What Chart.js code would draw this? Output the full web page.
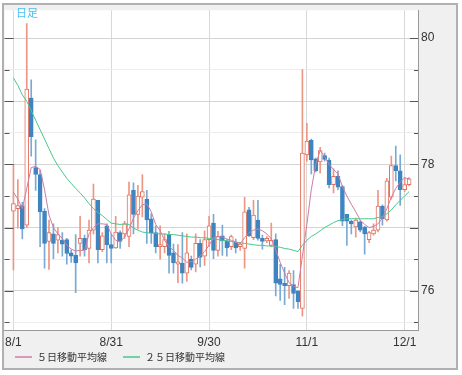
<!DOCTYPE html>
<html>
<head>
<meta charset="utf-8">
<script src="https://cdn.jsdelivr.net/npm/chart.js@4.4.0/dist/chart.umd.min.js"></script>
<style>
html, body { margin: 0; padding: 0; background: #fff; }
#wrap { position: relative; width: 462px; height: 375px; }
</style>
</head>
<body>
<div id="wrap"><canvas id="chart" width="462" height="375"></canvas></div>
<script>
// daily candles, one per trading day from 8/1 (index 0) to 12/2 (index 89)
const opens = [
  77.26, 77.30, 77.35, 77.04, 79.05, 77.95, 77.84, 77.26, 76.78, 76.90,
  76.80, 76.80, 76.81, 76.60, 76.56, 76.75, 76.83, 76.67, 76.96, 77.43,
  76.65, 77.03, 76.73, 76.68, 76.92, 76.90, 76.86, 77.59, 77.21, 77.48,
  77.45, 77.14, 76.92, 76.70, 76.70, 76.89, 76.60, 76.42, 76.44, 76.28,
  76.50, 76.42, 76.75, 76.55, 76.81, 77.07, 76.64, 76.87, 76.79, 76.70,
  76.77, 76.70, 76.67, 77.28, 76.84, 77.12, 76.83, 76.79, 76.72, 76.81,
  76.19, 76.12, 76.08, 76.10, 76.00, 75.72, 78.15, 78.38, 78.09, 78.04,
  78.14, 78.07, 77.68, 77.81, 77.65, 77.21, 77.10, 77.01, 77.09, 77.01,
  76.81, 76.90, 76.96, 77.34, 77.12, 77.48, 77.98, 77.90, 77.60, 77.68
];
const highs = [
  78.00, 77.76, 77.40, 80.23, 79.34, 78.39, 77.91, 77.30, 77.12, 77.06,
  77.00, 76.92, 76.83, 76.65, 76.89, 77.18, 76.88, 77.12, 77.69, 77.43,
  76.92, 77.06, 76.90, 77.18, 76.95, 77.10, 77.72, 77.71, 77.67, 77.84,
  77.59, 77.22, 77.03, 77.03, 76.90, 76.94, 76.74, 76.73, 76.92, 76.90,
  76.55, 76.90, 76.81, 76.95, 77.18, 77.21, 76.94, 77.04, 76.81, 76.88,
  76.82, 76.76, 77.48, 77.32, 77.43, 77.43, 76.88, 76.86, 77.07, 76.90,
  76.42, 76.37, 76.32, 76.32, 76.00, 79.50, 78.65, 78.40, 78.10, 78.27,
  78.18, 78.10, 77.93, 77.90, 77.67, 77.21, 77.12, 77.15, 77.11, 77.02,
  76.94, 77.06, 77.59, 77.36, 77.78, 78.13, 78.29, 78.15, 77.79, 77.79
];
const lows = [
  76.33, 76.99, 76.82, 77.00, 78.13, 77.59, 76.70, 76.36, 76.34, 76.51,
  76.60, 76.55, 76.42, 76.45, 75.97, 76.55, 76.55, 76.44, 76.90, 76.44,
  76.62, 76.44, 76.44, 76.67, 76.67, 76.83, 76.70, 76.90, 76.98, 77.17,
  76.75, 76.75, 76.60, 76.50, 76.60, 76.28, 76.28, 76.13, 76.12, 76.15,
  76.33, 76.30, 76.38, 76.40, 76.70, 76.51, 76.55, 76.56, 76.55, 76.65,
  76.60, 76.64, 76.36, 76.86, 76.81, 76.80, 76.66, 76.76, 76.70, 75.92,
  75.85, 75.78, 75.88, 75.72, 75.72, 75.60, 78.05, 77.85, 77.88, 77.86,
  78.05, 77.63, 77.55, 77.60, 77.03, 76.72, 76.90, 76.85, 76.93, 76.58,
  76.76, 76.88, 76.93, 77.04, 77.10, 77.45, 77.74, 77.35, 77.57, 77.66
];
const closes = [
  77.38, 77.35, 76.98, 79.19, 78.44, 77.84, 77.25, 76.75, 76.92, 76.75,
  76.89, 76.74, 76.59, 76.55, 76.44, 76.83, 76.65, 76.96, 77.45, 76.65,
  76.87, 76.73, 76.67, 76.93, 76.78, 77.06, 77.52, 77.21, 77.50, 77.57,
  77.12, 76.92, 76.70, 76.73, 76.81, 76.56, 76.44, 76.46, 76.28, 76.60,
  76.37, 76.75, 76.53, 76.81, 77.03, 76.64, 76.86, 76.79, 76.68, 76.86,
  76.68, 76.74, 77.25, 76.87, 77.20, 76.83, 76.78, 76.83, 76.80, 76.12,
  76.10, 76.08, 76.28, 75.96, 75.83, 78.18, 78.37, 78.07, 77.90, 78.22,
  78.08, 77.68, 77.81, 77.64, 77.10, 77.10, 77.06, 77.12, 76.96, 76.90,
  76.92, 76.96, 77.34, 77.14, 77.74, 77.98, 77.90, 77.60, 77.68, 77.77
];
const ma5 = [
  77.56, 77.45, 77.30, 77.62, 77.95, 77.97, 77.92, 77.60, 77.20, 77.00,
  76.90, 76.83, 76.72, 76.66, 76.63, 76.64, 76.64, 76.90, 77.00, 77.06,
  77.06, 77.05, 76.90, 76.80, 76.78, 76.85, 76.98, 77.15, 77.27, 77.36,
  77.38, 77.25, 77.05, 76.95, 76.80, 76.70, 76.64, 76.56, 76.52, 76.45,
  76.46, 76.50, 76.55, 76.62, 76.72, 76.84, 76.86, 76.85, 76.82, 76.80,
  76.77, 76.75, 76.84, 76.92, 76.96, 76.98, 76.95, 76.90, 76.82, 76.65,
  76.45, 76.28, 76.13, 76.07, 76.05, 76.55, 77.05, 77.60, 78.00, 78.22,
  78.12, 78.00, 77.92, 77.85, 77.65, 77.50, 77.37, 77.25, 77.12, 77.05,
  77.00, 77.02, 77.06, 77.15, 77.30, 77.48, 77.62, 77.72, 77.79, 77.77
];
const ma25 = [
  79.37, 79.25, 79.10, 79.00, 78.85, 78.70, 78.55, 78.40, 78.25, 78.10,
  77.98, 77.88, 77.78, 77.70, 77.62, 77.55, 77.47, 77.38, 77.30, 77.24,
  77.19, 77.13, 77.07, 77.06, 77.05, 77.06, 77.05, 76.99, 76.96, 76.93,
  76.92, 76.91, 76.91, 76.90, 76.90, 76.89, 76.89, 76.88, 76.87, 76.86,
  76.85, 76.85, 76.84, 76.84, 76.83, 76.82, 76.81, 76.80, 76.79, 76.78,
  76.77, 76.76, 76.75, 76.74, 76.73, 76.72, 76.72, 76.71, 76.71, 76.70,
  76.69, 76.67, 76.66, 76.64, 76.62, 76.72, 76.80, 76.86, 76.90, 76.95,
  77.00, 77.04, 77.08, 77.11, 77.13, 77.14, 77.14, 77.14, 77.14, 77.14,
  77.14, 77.14, 77.16, 77.17, 77.22, 77.28, 77.36, 77.43, 77.50, 77.57
];
const xTickIdx = [0, 22, 44, 66, 88];
const xTickLabels = ['8/1', '8/31', '9/30', '11/1', '12/1'];
const yGridValues = [75.5, 76, 76.5, 77, 77.5, 78, 78.5, 79, 79.5, 80];
const yTickLabels = [76, 78, 80];

const upLine = 'rgb(226,112,92)';
const upWick = 'rgb(236,150,132)';
const downBody = 'rgb(62,132,192)';
const downWick = 'rgb(122,170,212)';

const isUp = opens.map((o, i) => closes[i] >= o);

const frame = {
  id: 'frame',
  afterLayout(chart) {
    // put the legend row just under the axis labels
    const lg = chart.legend;
    const pad = lg.options.labels.padding;
    lg.left = 15 - pad;
    lg.top = 352 - pad;
  },
  beforeDraw(chart) {
    const { ctx, chartArea: a } = chart;
    ctx.save();
    ctx.fillStyle = '#ffffff';
    ctx.fillRect(0, 0, chart.width, chart.height);
    ctx.fillStyle = '#f0f0f0';
    ctx.fillRect(3, 4, 454, 365);
    ctx.fillStyle = '#ffffff';
    ctx.fillRect(a.left, a.top, a.right - a.left, a.bottom - a.top);
    ctx.restore();
  },
  afterDraw(chart) {
    const { ctx, chartArea: a, scales: { y } } = chart;
    ctx.save();
    ctx.strokeStyle = '#555';
    ctx.lineWidth = 1;
    ctx.beginPath();
    y.ticks.forEach(t => {
      const py = Math.round(y.getPixelForValue(t.value)) + 0.5;
      const big = t.value % 1 === 0;
      ctx.moveTo(a.left, py);
      ctx.lineTo(a.left + (big ? 9 : 5), py);
      ctx.moveTo(a.right, py);
      ctx.lineTo(a.right - (big ? 8 : 4), py);
    });
    ctx.stroke();
    ctx.strokeStyle = '#b0b0b0';
    ctx.lineWidth = 2;
    ctx.strokeRect(3, 4, 454, 365);
    ctx.fillStyle = '#48c0f0';
    ctx.font = '11px "Noto Sans CJK JP"';
    ctx.textBaseline = 'top';
    ctx.fillText('日足', 16, 7);
    ctx.restore();
  }
};

Chart.defaults.font.family = '"Liberation Sans", Arial, sans-serif';
Chart.defaults.color = '#333';

new Chart(document.getElementById('chart'), {
  type: 'bar',
  data: {
    datasets: [
      {
        type: 'line',
        label: '５日移動平均線',
        data: ma5.map((v, i) => ({ x: i, y: v })),
        borderColor: 'rgb(204,126,164)',
        backgroundColor: 'rgb(204,126,164)',
        borderWidth: 1,
        pointRadius: 0,
        tension: 0,
        order: 0
      },
      {
        type: 'line',
        label: '２５日移動平均線',
        data: ma25.map((v, i) => ({ x: i, y: v })),
        borderColor: 'rgb(72,200,140)',
        backgroundColor: 'rgb(72,200,140)',
        borderWidth: 1,
        pointRadius: 0,
        tension: 0,
        order: 0
      },
      {
        label: 'body',
        data: opens.map((o, i) => ({ x: i, y: [o, closes[i]] })),
        grouped: false,
        barThickness: 4,
        minBarLength: 1,
        borderWidth: 1,
        borderSkipped: false,
        backgroundColor: isUp.map(u => u ? '#ffffff' : downBody),
        borderColor: isUp.map(u => u ? upLine : downBody),
        order: 1
      },
      {
        label: 'wick',
        data: lows.map((l, i) => ({ x: i, y: [l, highs[i]] })),
        grouped: false,
        barThickness: 1,
        backgroundColor: isUp.map(u => u ? upWick : downWick),
        order: 2
      }
    ]
  },
  options: {
    responsive: false,
    animation: false,
    layout: { autoPadding: false, padding: { left: 4, top: 5, right: 5, bottom: 0 } },
    plugins: {
      tooltip: { enabled: false },
      legend: {
        position: 'bottom',
        align: 'start',
        maxHeight: 23,
        labels: {
          filter: item => item.datasetIndex < 2,
          boxWidth: 17,
          boxHeight: 0,
          padding: 16,
          color: '#333',
          font: { size: 10, family: '"Noto Sans CJK JP"' }
        }
      }
    },
    scales: {
      x: {
        type: 'linear',
        min: -2,
        max: 91,
        offset: false,
        afterBuildTicks: s => { s.ticks = xTickIdx.map(v => ({ value: v })); },
        afterFit: s => { s.height = 22; },
        ticks: {
          autoSkip: false,
          maxRotation: 0,
          padding: 5,
          font: { size: 12 },
          color: '#333',
          callback: v => xTickLabels[xTickIdx.indexOf(v)]
        },
        grid: { color: '#d8d8d8', drawTicks: false, offset: false },
        border: { color: '#999' }
      },
      y: {
        position: 'right',
        min: 75.38,
        max: 80.44,
        afterBuildTicks: s => { s.ticks = yGridValues.map(v => ({ value: v })); },
        afterFit: s => { s.width = 39; },
        ticks: {
          padding: 3,
          font: { size: 12 },
          color: '#333',
          callback: v => yTickLabels.includes(v) ? String(v) : ''
        },
        grid: {
          drawTicks: false,
          color: c => (c.tick && c.tick.value % 1 === 0) ? '#d4d4d4' : '#ececec'
        },
        border: { color: '#999' }
      }
    }
  },
  plugins: [frame]
});
</script>
</body>
</html>
